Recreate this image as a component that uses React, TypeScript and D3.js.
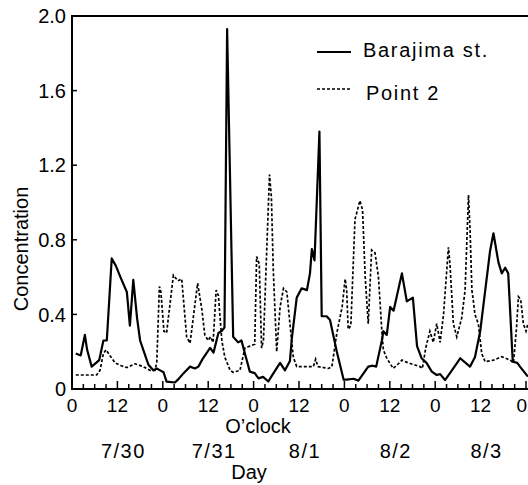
import React from "react";
import * as d3 from "d3";

// Hourly concentration records, 7/30 0:00 through 8/3 24:00 (hours from start)
const hoursBarajima = [
  1, 2.3, 3.4, 4, 5.2, 7.2, 8.3, 9.2, 10.5, 11.6, 12.8, 14.5, 15.3, 16.2, 17.2, 18, 19, 20.2, 21.5, 22.4, 23.3,
  24.2, 25, 27.2, 28, 29.5, 31.2, 32.5, 33.4, 34.5, 36.5, 37.4, 38.7, 39.5, 40.3, 41.0, 42.6, 43.9, 44.8, 45.7,
  47, 48.3, 49.3, 50.5, 51.9, 52.8, 55, 56.3, 57.6, 58.1, 59.4, 60.7, 62.1, 62.9, 63.4, 64.1, 65.4, 66.0, 67.3,
  68.2, 70.0, 71.8, 72.6, 74.4, 75.7, 78.3, 79.5, 80.4, 81.9, 82.3, 83.2, 84.1, 85, 87.2, 88.5, 90.1, 91.2, 92.4,
  93.7, 95.1, 96.4, 97.3, 98.6, 99.9, 101.7, 102.6, 105.2, 106.5, 107.9, 110.5, 111.4, 112.7, 113.6, 114.5,
  115.3, 116.5, 117.7, 118.4, 120.5,
];
const valuesBarajima = [
  0.19, 0.18, 0.29, 0.21, 0.12, 0.155, 0.26, 0.26, 0.7, 0.66, 0.6, 0.52, 0.34, 0.585, 0.38, 0.26, 0.2, 0.13, 0.1,
  0.11, 0.1, 0.09, 0.04, 0.035, 0.05, 0.085, 0.12, 0.11, 0.12, 0.16, 0.22, 0.195, 0.3, 0.31, 0.33, 1.93, 0.28,
  0.25, 0.26, 0.19, 0.093, 0.085, 0.057, 0.065, 0.04, 0.07, 0.14, 0.1, 0.15, 0.27, 0.49, 0.54, 0.53, 0.62, 0.75,
  0.69, 1.38, 0.39, 0.39, 0.37, 0.2, 0.05, 0.05, 0.055, 0.045, 0.12, 0.125, 0.12, 0.26, 0.31, 0.29, 0.44, 0.42,
  0.62, 0.47, 0.49, 0.23, 0.165, 0.14, 0.093, 0.075, 0.08, 0.048, 0.085, 0.137, 0.165, 0.12, 0.17, 0.31, 0.74,
  0.835, 0.68, 0.62, 0.65, 0.62, 0.146, 0.14, 0.12, 0.066,
];

const hoursPoint2 = [
  1, 6.5, 7.4, 8.3, 9, 10, 11.4, 13, 14.5, 16.7, 18.8, 20.6, 21.9, 22.4, 23.1, 23.5, 24.3, 25, 26.8, 28, 29, 30.3,
  31.2, 33.2, 34.3, 35.1, 36, 36.6, 37.3, 38.1, 38.7, 39.6, 40.4, 41.8, 42.6, 44.4, 45.7, 47, 48.3, 48.8, 49.5,
  50.1, 50.6, 52.2, 52.7, 53.2, 54.1, 55, 55.9, 56.8, 57.6, 58.5, 59.4, 61.6, 63.8, 64.4, 65, 67.8, 68.7, 70,
  71.4, 72.2, 72.6, 73, 73.7, 74.8, 76.1, 76.8, 77.5, 78.3, 79.2, 80.1, 81, 81.9, 82.3, 83.2, 84.9, 86, 87.2,
  88.9, 92, 92.6, 93.5, 94.6, 95.5, 96.4, 97.3, 98.2, 99.5, 99.9, 100.8, 101.7, 103, 103.9, 104.8, 105.2, 105.7,
  106.1, 106.5, 107.4, 108.3, 109.2, 111.4, 113.6, 115.8, 116.7, 117.5, 118, 118.6, 119.3, 120, 120.5,
];
const valuesPoint2 = [
  0.075, 0.075, 0.1, 0.19, 0.21, 0.18, 0.14, 0.125, 0.115, 0.135, 0.12, 0.1, 0.1, 0.14, 0.55, 0.52, 0.31, 0.3,
  0.61, 0.58, 0.59, 0.28, 0.245, 0.567, 0.43, 0.29, 0.26, 0.28, 0.25, 0.53, 0.5, 0.26, 0.17, 0.1, 0.09, 0.1, 0.22,
  0.23, 0.24, 0.71, 0.67, 0.22, 0.26, 1.15, 1.03, 0.64, 0.2, 0.44, 0.54, 0.52, 0.35, 0.17, 0.12, 0.12, 0.12, 0.16,
  0.12, 0.11, 0.12, 0.3, 0.44, 0.59, 0.53, 0.32, 0.34, 0.91, 1.01, 0.96, 0.6, 0.35, 0.745, 0.73, 0.6, 0.31, 0.21,
  0.165, 0.11, 0.13, 0.155, 0.14, 0.12, 0.11, 0.22, 0.31, 0.25, 0.35, 0.25, 0.4, 0.76, 0.67, 0.35, 0.28, 0.38,
  0.53, 1.04, 0.86, 0.53, 0.47, 0.4, 0.35, 0.19, 0.146, 0.155, 0.173, 0.155, 0.14, 0.33, 0.495, 0.48, 0.35, 0.31,
  0.35,
];

const yTicks = [0, 0.4, 0.8, 1.2, 1.6, 2.0];
const yTickLabels = ["0", "0.4", "0.8", "1.2", "1.6", "2.0"];
const hourTicks = [0, 12, 24, 36, 48, 60, 72, 84, 96, 108, 120];
const hourTickLabels = ["0", "12", "0", "12", "0", "12", "0", "12", "0", "12", "0"];
const dayNoons = [12, 36, 60, 84, 108];
const dayLabels = ["7/30", "7/31", "8/1", "8/2", "8/3"];
const seriesNames = ["Barajima st.", "Point 2"];

const W = 528;
const H = 485;
const FONT = "'Liberation Sans', Arial, sans-serif";

export default function App() {
  const x = d3.scaleLinear().domain([0, 120]).range([72, 526]);
  const y = d3.scaleLinear().domain([0, 2]).range([389, 16]);

  const line = d3
    .line<[number, number]>()
    .x((d) => x(d[0]))
    .y((d) => y(d[1]));

  const barajima = hoursBarajima.map((h, i) => [h, valuesBarajima[i]] as [number, number]);
  const point2 = hoursPoint2.map((h, i) => [h, valuesPoint2[i]] as [number, number]);

  const minorTicks = d3.range(0, 121, 3);

  const x0 = x(0);
  const yBase = y(0);
  const yTop = y(2);

  return (
    <svg
      width={W}
      height={H}
      viewBox={`0 0 ${W} ${H}`}
      style={{ position: "absolute", left: 0, top: 0, background: "#fff" }}
      fontFamily={FONT}
    >
      <rect x={0} y={0} width={W} height={H} fill="#fff" />

      {/* series */}
      <path d={line(point2) ?? ""} fill="none" stroke="#000" strokeWidth={1.7} strokeDasharray="3 2" />
      <path d={line(barajima) ?? ""} fill="none" stroke="#000" strokeWidth={2.2} strokeLinejoin="round" />

      {/* frame */}
      <line x1={x0} x2={x0} y1={yTop} y2={yBase} stroke="#000" strokeWidth={2} />
      <line x1={x0 - 1} x2={W} y1={yTop} y2={yTop} stroke="#000" strokeWidth={2} />
      <line x1={x0 - 1} x2={W} y1={yBase} y2={yBase} stroke="#000" strokeWidth={2} />

      {/* y axis */}
      {yTicks.map((t, i) => (
        <g key={`y${i}`}>
          <line x1={x0} x2={x0 + 5} y1={y(t)} y2={y(t)} stroke="#000" strokeWidth={1.5} />
          <text x={66} y={y(t)} dy="0.36em" textAnchor="end" fontSize={20}>
            {yTickLabels[i]}
          </text>
        </g>
      ))}

      {/* x axis ticks */}
      {minorTicks.map((t) => (
        <line
          key={`m${t}`}
          x1={x(t)}
          x2={x(t)}
          y1={yBase}
          y2={yBase - (t % 12 === 0 ? 8 : 5)}
          stroke="#000"
          strokeWidth={1.5}
        />
      ))}
      {hourTicks.map((t, i) => {
        const last = i === hourTicks.length - 1;
        return (
          <text
            key={`h${i}`}
            x={last ? W - 1 : x(t)}
            y={412}
            textAnchor={last ? "end" : "middle"}
            fontSize={19}
          >
            {hourTickLabels[i]}
          </text>
        );
      })}
      {dayNoons.map((t, i) => (
        <text key={`d${i}`} x={x(t) + 6} y={458} textAnchor="middle" fontSize={20} letterSpacing={1.5}>
          {dayLabels[i]}
        </text>
      ))}

      <text x={258} y={433} textAnchor="middle" fontSize={20}>
        O’clock
      </text>
      <text x={249} y={479} textAnchor="middle" fontSize={20}>
        Day
      </text>
      <text transform="translate(28,249) rotate(-90)" textAnchor="middle" fontSize={20}>
        Concentration
      </text>

      {/* legend */}
      <line x1={317} x2={351} y1={52} y2={52} stroke="#000" strokeWidth={2} />
      <text x={363} y={57} fontSize={20} letterSpacing={1.7}>
        {seriesNames[0]}
      </text>
      <line x1={317} x2={351} y1={89} y2={89} stroke="#000" strokeWidth={1.7} strokeDasharray="3 2" />
      <text x={366} y={100} fontSize={20} letterSpacing={1.7}>
        {seriesNames[1]}
      </text>
    </svg>
  );
}
